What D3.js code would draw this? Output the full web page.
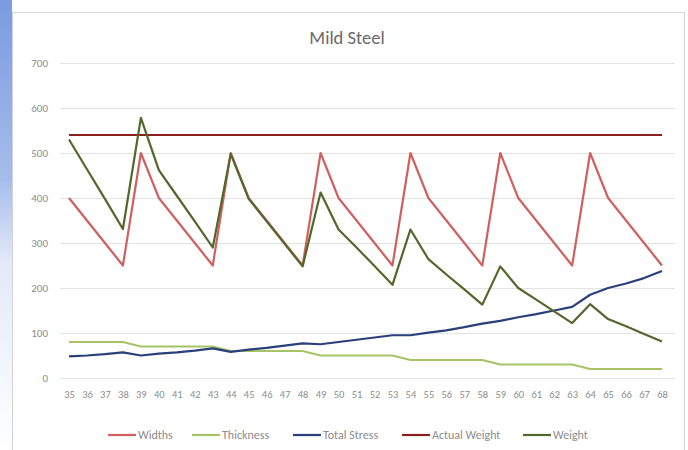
<!DOCTYPE html>
<html>
<head>
<meta charset="utf-8">
<script src="https://cdn.jsdelivr.net/npm/d3@7/dist/d3.min.js"></script>
<style>
  html, body { margin: 0; padding: 0; background: #fff; }
  svg { display: block; font-family: Carlito, Calibri, "Open Sans", "Liberation Sans", sans-serif; }
</style>
</head>
<body>
<svg id="chart" width="688" height="450"></svg>
<script>
// Section sizes 35 .. 68
const categories = d3.range(35, 69).map(String);

const widths = [400, 350, 300, 250,
  500, 400, 350, 300, 250,
  500, 400, 350, 300, 250,
  500, 400, 350, 300, 250,
  500, 400, 350, 300, 250,
  500, 400, 350, 300, 250,
  500, 400, 350, 300, 250];

const thickness = [80, 80, 80, 80,
  70, 70, 70, 70, 70,
  60, 60, 60, 60, 60,
  50, 50, 50, 50, 50,
  40, 40, 40, 40, 40,
  30, 30, 30, 30, 30,
  20, 20, 20, 20, 20];

const totalStress = [48, 50, 53, 57,
  50, 54, 57, 61, 66,
  58, 63, 67, 72, 77,
  75, 80, 85, 90, 95,
  95, 101, 106, 113, 121,
  127, 135, 142, 150, 158,
  185, 200, 210, 222, 238];

const actualWeight = categories.map(() => 540);

const weight = [530, 464, 398, 331,
  578, 462, 405, 348, 290,
  498, 398, 348, 298, 248,
  412, 330, 290, 249, 207,
  330, 264, 230, 197, 163,
  248, 200, 174, 148, 122,
  164, 131, 115, 98, 81];

const yTicks = [0, 100, 200, 300, 400, 500, 600, 700];

const series = [
  { name: "Widths", values: widths, color: "#d06060" },
  { name: "Thickness", values: thickness, color: "#a6c466" },
  { name: "Total Stress", values: totalStress, color: "#2b3f7a" },
  { name: "Actual Weight", values: actualWeight, color: "#8a1f1f" },
  { name: "Weight", values: weight, color: "#53672c" }
];

const svg = d3.select("#chart");

// Side strip and chart frame
const grad = svg.append("defs").append("linearGradient")
  .attr("id", "strip").attr("x1", 0).attr("y1", 0).attr("x2", 0).attr("y2", 1);
grad.append("stop").attr("offset", "0%").attr("stop-color", "#7a9be0");
grad.append("stop").attr("offset", "40%").attr("stop-color", "#a6bdec");
grad.append("stop").attr("offset", "58%").attr("stop-color", "#e2e9f8");
grad.append("stop").attr("offset", "100%").attr("stop-color", "#ffffff");
svg.append("rect").attr("x", 0).attr("y", 0).attr("width", 12).attr("height", 450)
  .attr("fill", "url(#strip)");

svg.append("rect")
  .attr("x", 12.5).attr("y", 12.5).attr("width", 672).attr("height", 450)
  .attr("fill", "#fff").attr("stroke", "#d4d4d4").attr("stroke-width", 1);

const x = d3.scalePoint().domain(categories).range([69, 662]);
const y = d3.scaleLinear().domain([0, 700]).range([378, 63]);

// Gridlines
svg.append("g").selectAll("line").data(yTicks).join("line")
  .attr("x1", 60).attr("x2", 675)
  .attr("y1", d => Math.round(y(d)) + 0.5).attr("y2", d => Math.round(y(d)) + 0.5)
  .attr("stroke", "#e3e3e3").attr("stroke-width", 1);

// Y axis labels
const yAxis = d3.axisLeft(y).tickValues(yTicks).tickSize(0).tickPadding(0);
const gy = svg.append("g").attr("transform", "translate(48,0)").call(yAxis);
gy.select(".domain").remove();
gy.selectAll("text").attr("fill", "#8c8c8c").attr("font-size", 11)
  .attr("font-family", "Carlito, Calibri, sans-serif");

// X axis labels
const xAxis = d3.axisBottom(x).tickSize(0).tickPadding(0);
const gx = svg.append("g").attr("transform", "translate(0,391)").call(xAxis);
gx.select(".domain").remove();
gx.selectAll("text").attr("fill", "#8c8c8c").attr("font-size", 10.5)
  .attr("font-family", "Carlito, Calibri, sans-serif");

// Series lines
const line = d3.line().x((d, i) => x(categories[i])).y(d => y(d));
svg.append("g").selectAll("path").data(series).join("path")
  .attr("d", s => line(s.values))
  .attr("fill", "none")
  .attr("stroke", s => s.color)
  .attr("stroke-width", 2.2)
  .attr("stroke-linejoin", "round");

// Title
svg.append("text").attr("x", 347).attr("y", 44).attr("text-anchor", "middle")
  .attr("font-size", 18.5).attr("fill", "#6a6a6a").text("Mild Steel");

// Legend
const legendX = [108, 192, 293, 402, 523];
const lg = svg.append("g").selectAll("g").data(series).join("g")
  .attr("transform", (d, i) => `translate(${legendX[i]},435)`);
lg.append("line").attr("x1", 0).attr("x2", 28).attr("y1", 0).attr("y2", 0)
  .attr("stroke", d => d.color).attr("stroke-width", 2.2);
lg.append("text").attr("x", 30).attr("y", 4).attr("font-size", 12)
  .attr("fill", "#8c8c8c").text(d => d.name);
</script>
</body>
</html>
